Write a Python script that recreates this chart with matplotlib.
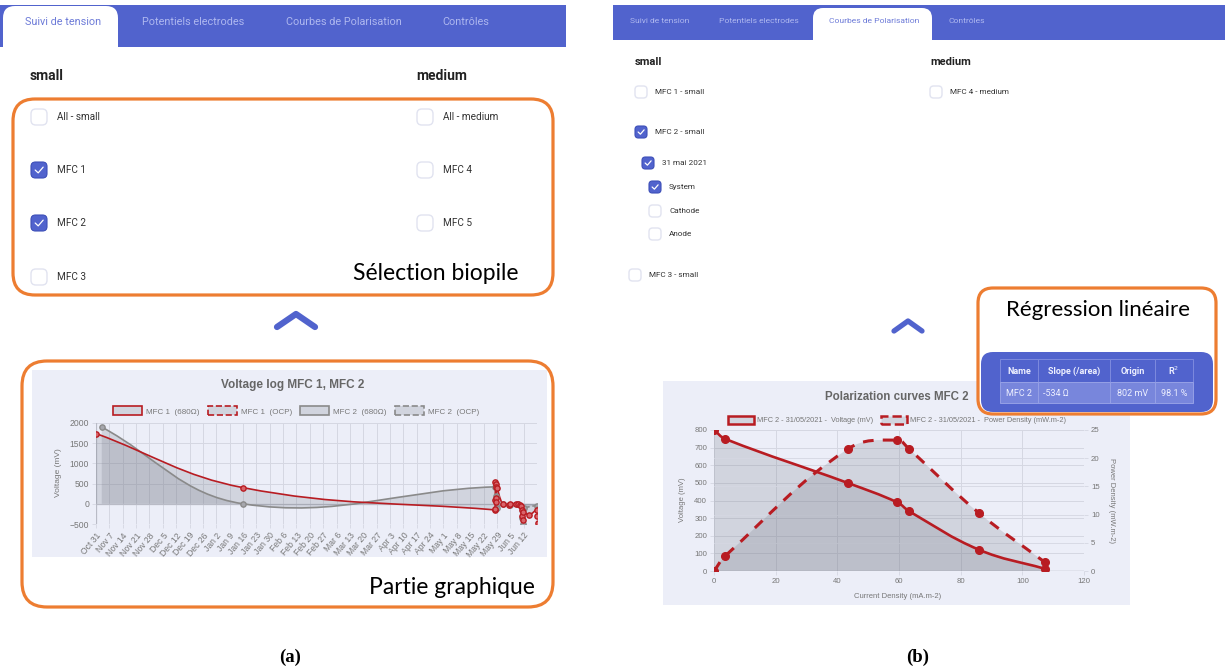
import numpy as np
import matplotlib.pyplot as plt
import matplotlib.dates as mdates
from matplotlib.patches import FancyBboxPatch, Rectangle, PathPatch, Patch
from matplotlib.path import Path

W, H = 1225, 670
BLUE = '#5163cd'
ORANGE = '#ed7d31'
RED = '#b81c22'
GRAY = '#8a8a8a'
CHART_BG = '#eceef8'
GRID = '#d5d7e2'
FILL = (0.45, 0.47, 0.52, 0.22)
UI_FONT = 'Roboto'
CHART_FONT = 'Liberation Sans'
NOTE_FONT = 'Lato'

# ---------------- data: (a) voltage log ----------------
week_ticks = ["2020-10-31", "2020-11-07", "2020-11-14", "2020-11-21", "2020-11-28",
              "2020-12-05", "2020-12-12", "2020-12-19", "2020-12-26", "2021-01-02",
              "2021-01-09", "2021-01-16", "2021-01-23", "2021-01-30", "2021-02-06",
              "2021-02-13", "2021-02-20", "2021-02-27", "2021-03-06", "2021-03-13",
              "2021-03-20", "2021-03-27", "2021-04-03", "2021-04-10", "2021-04-17",
              "2021-04-24", "2021-05-01", "2021-05-08", "2021-05-15", "2021-05-22",
              "2021-05-29", "2021-06-05", "2021-06-12"]
week_labels = ["Oct 31", "Nov 7", "Nov 14", "Nov 21", "Nov 28", "Dec 5", "Dec 12",
               "Dec 19", "Dec 26", "Jan 2", "Jan 9", "Jan 16", "Jan 23", "Jan 30",
               "Feb 6", "Feb 13", "Feb 20", "Feb 27", "Mar 6", "Mar 13", "Mar 20",
               "Mar 27", "Apr 3", "Apr 10", "Apr 17", "Apr 24", "May 1", "May 8",
               "May 15", "May 22", "May 29", "Jun 5", "Jun 12"]

mfc1_680_t = ["2020-10-31", "2021-01-16", "2021-05-27T18", "2021-05-28T00", "2021-05-28T03",
              "2021-05-28T06", "2021-05-28T09", "2021-05-28T12", "2021-05-28T15",
              "2021-05-28T18", "2021-05-29T00", "2021-06-01", "2021-06-04T12", "2021-06-05",
              "2021-06-08", "2021-06-09", "2021-06-10", "2021-06-10T12", "2021-06-11",
              "2021-06-11T06", "2021-06-11T12"]
mfc1_680_v = [1740, 400, -150, -120, 100, 550, 500, 420, 150, 50, 380, 0, -30, 0,
              0, 0, -20, -50, -150, -300, -400]
mfc1_ocp_t = ["2021-06-11T18", "2021-06-15", "2021-06-19", "2021-06-19T06", "2021-06-19T12"]
mfc1_ocp_v = [-200, -270, -150, -300, -480]
mfc2_680_t = ["2020-11-03", "2021-01-16", "2021-05-28", "2021-05-28T12", "2021-05-29",
              "2021-06-01", "2021-06-05", "2021-06-09", "2021-06-11", "2021-06-11T12"]
mfc2_680_v = [1900, 0, 420, 200, -100, 0, -20, 0, -350, -500]
mfc2_ocp_t = ["2021-06-12", "2021-06-19", "2021-06-19T12"]
mfc2_ocp_v = [-100, -50, -120]

# ---------------- data: (b) polarization ----------------
pol_current = [0, 3.7, 43.3, 59.5, 63.3, 85.9, 107.2]
pol_voltage = [800, 749, 500, 389, 339, 121, 13]
pol_power = [0, 2.7, 21.6, 23.2, 21.6, 10.3, 1.6]

table_cols = ["Name", "Slope (/area)", "Origin", "R$^2$"]
table_row = ["MFC 2", "-534 Ω", "802 mV", "98.1 %"]

left_tabs = ["Suivi de tension", "Potentiels electrodes", "Courbes de Polarisation", "Contrôles"]
left_small = [("All - small", False), ("MFC 1", True), ("MFC 2", True), ("MFC 3", False)]
left_medium = [("All - medium", False), ("MFC 4", False), ("MFC 5", False)]
right_small = [("MFC 1 - small", False, 0), ("MFC 2 - small", True, 0), ("31 mai 2021", True, 1),
               ("System", True, 2), ("Cathode", False, 2), ("Anode", False, 2),
               ("MFC 3 - small", False, -1)]
right_medium = [("MFC 4 - medium", False)]


def dnum(ts):
    return mdates.date2num(np.array(ts, dtype='datetime64[h]'))


def fig_rect(x0, y0, x1, y1):
    return [x0 / W, 1 - y1 / H, (x1 - x0) / W, (y1 - y0) / H]


def spline(xs, ys, xlim, ylim, pw, ph, t=0.4):
    # chart.js style cubic bezier through the points
    xs = np.asarray(xs, float)
    ys = np.asarray(ys, float)
    sx = pw / (xlim[1] - xlim[0])
    sy = ph / (ylim[1] - ylim[0])
    p = np.column_stack([(xs - xlim[0]) * sx, (ys - ylim[0]) * sy])
    n = len(p)
    cprev = np.zeros_like(p)
    cnext = np.zeros_like(p)
    for i in range(n):
        a, b, c = p[max(i - 1, 0)], p[i], p[min(i + 1, n - 1)]
        d01 = np.hypot(*(b - a))
        d12 = np.hypot(*(c - b))
        tot = d01 + d12
        s01 = d01 / tot if tot else 0
        s12 = d12 / tot if tot else 0
        cprev[i] = b - t * s01 * (c - a)
        cnext[i] = b + t * s12 * (c - a)
    back = lambda q: (q[0] / sx + xlim[0], q[1] / sy + ylim[0])
    verts = [back(p[0])]
    codes = [Path.MOVETO]
    for i in range(n - 1):
        verts += [back(cnext[i]), back(cprev[i + 1]), back(p[i + 1])]
        codes += [Path.CURVE4] * 3
    return verts, codes


def add_series(ax, xs, ys, xlim, ylim, pw, ph, color, ls='-', lw=1.2, ms=3.5, mfc=None,
               fill=True):
    verts, codes = spline(xs, ys, xlim, ylim, pw, ph)
    if fill:
        fv = verts + [(xs[-1], 0), (xs[0], 0), (xs[0], 0)]
        fc = codes + [Path.LINETO, Path.LINETO, Path.CLOSEPOLY]
        ax.add_patch(PathPatch(Path(fv, fc), facecolor=FILL, edgecolor='none', zorder=1))
    if lw:
        ax.add_patch(PathPatch(Path(verts, codes), fill=False, edgecolor=color, lw=lw,
                               linestyle=ls, zorder=3, capstyle='butt'))
    if ms:
        ax.plot(xs, ys, 'o', color=color, ms=ms, mec=color, mfc=mfc or color, mew=1,
                zorder=4)


fig = plt.figure(figsize=(12.25, 6.70), dpi=100)
bg = fig.add_axes([0, 0, 1, 1])
bg.set_xlim(0, W)
bg.set_ylim(H, 0)
bg.axis('off')


def checkbox(x, y, s, checked):
    if checked:
        bg.add_patch(FancyBboxPatch((x - s / 2, y - s / 2), s, s,
                                    boxstyle=f'round,pad=0,rounding_size={s * 0.28}',
                                    fc=BLUE, ec='#3d4fb8', lw=0.8))
        bg.plot([x - 0.24 * s, x - 0.05 * s, x + 0.26 * s],
                [y + 0.0 * s, y + 0.18 * s, y - 0.18 * s], color='white', lw=0.9,
                solid_capstyle='round')
    else:
        bg.add_patch(FancyBboxPatch((x - s / 2, y - s / 2), s, s,
                                    boxstyle=f'round,pad=0,rounding_size={s * 0.3}',
                                    fc='white', ec='#e1e3f0', lw=1.0))


# ---------------- left UI ----------------
bg.add_patch(Rectangle((0, 5), 566, 42, fc=BLUE, ec='none'))
bg.add_patch(FancyBboxPatch((3, 6), 115, 60, boxstyle='round,pad=0,rounding_size=12',
                            fc='white', ec='none'))
for name, cx in zip(left_tabs, [63, 193, 344, 466]):
    active = name == "Suivi de tension"
    bg.text(cx, 22, name, ha='center', va='center', fontsize=7.8, family=UI_FONT,
            color='#6d7bd8' if active else '#aeb7ef')

bg.text(30, 76, "small", fontsize=10, fontweight='bold', family=UI_FONT, color='#222',
        va='center')
bg.text(416, 76, "medium", fontsize=10, fontweight='bold', family=UI_FONT, color='#222',
        va='center')
for (lab, chk), y in zip(left_small, [117, 170, 223, 277]):
    checkbox(39, y, 16, chk)
    bg.text(57, y, lab, fontsize=7.2, family=UI_FONT, color='#333', va='center')
for (lab, chk), y in zip(left_medium, [117, 170, 223]):
    checkbox(425, y, 16, chk)
    bg.text(443, y, lab, fontsize=7.2, family=UI_FONT, color='#333', va='center')

bg.add_patch(FancyBboxPatch((13, 99), 540, 196, boxstyle='round,pad=0,rounding_size=22',
                            fill=False, ec=ORANGE, lw=2.3))
bg.text(436, 273, "Sélection biopile", ha='center', va='center', fontsize=16.5,
        family=NOTE_FONT, color='black')
bg.plot([277, 296, 315], [327, 314, 327], color=BLUE, lw=4.5, solid_capstyle='round',
        solid_joinstyle='round')

bg.add_patch(Rectangle((32, 370), 515, 187, fc=CHART_BG, ec='none'))
bg.add_patch(FancyBboxPatch((22, 361), 531, 246, boxstyle='round,pad=0,rounding_size=25',
                            fill=False, ec=ORANGE, lw=2.3))
bg.text(293, 385, "Voltage log MFC 1, MFC 2", ha='center', va='center', fontsize=8.5,
        fontweight='bold', family=CHART_FONT, color='#666')
bg.text(452, 587, "Partie graphique", ha='center', va='center', fontsize=16.5,
        family=NOTE_FONT, color='black')
bg.text(58, 473, "Voltage (mV)", rotation=90, ha='center', va='center', fontsize=6,
        family=CHART_FONT, color='#777')

# ---------------- right UI ----------------
bg.add_patch(Rectangle((613, 5), 612, 35, fc=BLUE, ec='none'))
bg.add_patch(FancyBboxPatch((813, 8), 119, 50, boxstyle='round,pad=0,rounding_size=10',
                            fc='white', ec='none'))
for name, cx in zip(left_tabs, [660, 759, 874, 967]):
    active = name == "Courbes de Polarisation"
    bg.text(cx, 21, name, ha='center', va='center', fontsize=6.1, family=UI_FONT,
            color='#6d7bd8' if active else '#aeb7ef')
bg.text(635, 62, "small", fontsize=8, fontweight='bold', family=UI_FONT, color='#222',
        va='center')
bg.text(930, 62, "medium", fontsize=8, fontweight='bold', family=UI_FONT, color='#222',
        va='center')
indent_x = {-1: 635, 0: 641, 1: 648, 2: 655}
for (lab, chk, lvl), y in zip(right_small, [92, 132, 163, 187, 211, 234, 275]):
    checkbox(indent_x[lvl], y, 12, chk)
    bg.text(indent_x[lvl] + 14, y, lab, fontsize=5.9, family=UI_FONT, color='#333',
            va='center')
for (lab, chk), y in zip(right_medium, [92]):
    checkbox(936, y, 12, chk)
    bg.text(950, y, lab, fontsize=5.9, family=UI_FONT, color='#333', va='center')
bg.plot([894, 908, 922], [331, 321, 331], color=BLUE, lw=3.8, solid_capstyle='round',
        solid_joinstyle='round')

bg.add_patch(Rectangle((663, 381), 467, 224, fc=CHART_BG, ec='none'))
bg.text(897, 397, "Polarization curves MFC 2", ha='center', va='center', fontsize=8.3,
        fontweight='bold', family=CHART_FONT, color='#666')
bg.text(683, 500, "Voltage (mV)", rotation=90, ha='center', va='center', fontsize=5.5,
        family=CHART_FONT, color='#777')
bg.text(1112, 500, "Power Density (mW.m-2)", rotation=270, ha='center', va='center',
        fontsize=5.5, family=CHART_FONT, color='#777')
bg.text(898, 596, "Current Density (mA.m-2)", ha='center', va='center', fontsize=5.5,
        family=CHART_FONT, color='#777')

# regression box
bg.add_patch(FancyBboxPatch((978, 288), 238, 126, boxstyle='round,pad=0,rounding_size=15',
                            fc='white', ec=ORANGE, lw=2.3, zorder=2))
bg.text(1098, 310, "Régression linéaire", ha='center', va='center', fontsize=16,
        family=NOTE_FONT, color='black', zorder=3)
bg.add_patch(FancyBboxPatch((981, 352), 232, 60, boxstyle='round,pad=0,rounding_size=12',
                            fc=BLUE, ec='none', zorder=3))
col_x = [1000, 1038, 1110, 1155, 1193]
for i in range(4):
    bg.add_patch(Rectangle((col_x[i], 359), col_x[i + 1] - col_x[i], 23, fc=BLUE,
                           ec='#7d8ade', lw=0.7, zorder=4))
    bg.add_patch(Rectangle((col_x[i], 382), col_x[i + 1] - col_x[i], 21, fc='#7886dc',
                           ec='#95a0e6', lw=0.7, zorder=4))
    hx = (col_x[i] + col_x[i + 1]) / 2
    bx = col_x[i] + 5 if i == 1 else hx
    bg.text(hx, 371, table_cols[i], ha='center', va='center', fontsize=6.5,
            fontweight='bold', family=UI_FONT, color='#eef0ff', zorder=5)
    bg.text(bx, 393, table_row[i], ha='left' if i == 1 else 'center', va='center',
            fontsize=6.5, family=UI_FONT, color='#eef0ff', zorder=5)

bg.text(290, 657, "(a)", ha='center', va='center', fontsize=13.5, fontweight='bold',
        family='Liberation Serif')
bg.text(918, 657, "(b)", ha='center', va='center', fontsize=13.5, fontweight='bold',
        family='Liberation Serif')

# ---------------- chart (a) ----------------
ax1 = fig.add_axes(fig_rect(96, 423, 537, 524))
ax1.set_facecolor(CHART_BG)
xl1 = (dnum(["2020-10-31"])[0], dnum(["2021-06-19"])[0])
yl1 = (-500, 2000)
ax1.set_xlim(xl1)
ax1.set_ylim(yl1)
for ts, vs, col, ls, mf in [(mfc2_680_t, mfc2_680_v, GRAY, '-', '#a6a7ad'),
                            (mfc2_ocp_t, mfc2_ocp_v, GRAY, '--', '#a6a7ad'),
                            (mfc1_680_t, mfc1_680_v, RED, '-', '#d9646a'),
                            (mfc1_ocp_t, mfc1_ocp_v, RED, '--', '#d9646a')]:
    add_series(ax1, dnum(ts), vs, xl1, yl1, 441, 101, col, ls=ls, lw=1.2, ms=3.8, mfc=mf)
ax1.set_yticks([-500, 0, 500, 1000, 1500, 2000])
ax1.set_xticks(dnum(week_ticks))
ax1.set_xticklabels(week_labels, rotation=50, ha='right', rotation_mode='anchor')
ax1.grid(True, color=GRID, lw=0.7)
ax1.set_axisbelow(True)
ax1.axhline(0, color='#b9bbc6', lw=0.9, zorder=0.6)
ax1.axvline(xl1[0], color='#b9bbc6', lw=0.9, zorder=0.6)
ax1.tick_params(labelsize=6.2, colors='#777', length=3, width=0.6, pad=2)
ax1.tick_params(axis='both', color=GRID)
for lab in ax1.get_xticklabels() + ax1.get_yticklabels():
    lab.set_family(CHART_FONT)
for s in ax1.spines.values():
    s.set_visible(False)
leg_a = [Patch(fc=FILL, ec=RED, lw=1.2, label='MFC 1  (680Ω)'),
         Patch(fc=FILL, ec=RED, lw=1.2, ls='--', label='MFC 1  (OCP)'),
         Patch(fc=FILL, ec=GRAY, lw=1.2, label='MFC 2  (680Ω)'),
         Patch(fc=FILL, ec=GRAY, lw=1.2, ls='--', label='MFC 2  (OCP)')]
lg = ax1.legend(handles=leg_a, ncol=4, loc='center', bbox_to_anchor=(296, 411),
                bbox_transform=bg.transData, frameon=False, handlelength=3.6,
                handleheight=1.3, columnspacing=1.0, handletextpad=0.5,
                prop={'family': CHART_FONT, 'size': 5.8})
for t in lg.get_texts():
    t.set_color('#777')

# ---------------- chart (b) ----------------
ax2 = fig.add_axes(fig_rect(714, 430, 1084, 571))
ax2.set_facecolor(CHART_BG)
ax2r = ax2.twinx()
xl2, yl2, yl2r = (0, 120), (0, 800), (0, 25)
ax2.set_xlim(xl2)
ax2.set_ylim(yl2)
ax2r.set_ylim(yl2r)
add_series(ax2, pol_current, pol_voltage, xl2, yl2, 370, 141, RED, lw=0, ms=0)
add_series(ax2r, pol_current, pol_power, xl2, yl2r, 370, 141, RED, ls=(0, (3.5, 3)),
           lw=2.2, ms=5.5)
# voltage line on top of power fill
vv, vc = spline(pol_current, pol_voltage, xl2, yl2, 370, 141)
ax2r.add_patch(PathPatch(Path(vv, vc), fill=False, edgecolor=RED, lw=1.9, zorder=3,
                         transform=ax2.transData))
ax2r.plot(pol_current, pol_voltage, 'o', color=RED, ms=5.5, zorder=4,
          transform=ax2.transData)
ax2.set_xticks(range(0, 121, 20))
ax2.set_yticks(range(0, 801, 100))
ax2r.set_yticks(range(0, 26, 5))
ax2.grid(True, color=GRID, lw=0.7)
ax2.set_axisbelow(True)
ax2r.grid(True, axis='y', color=GRID, lw=0.6)
ax2r.set_axisbelow(True)
ax2.axhline(0, color='#b0b2bd', lw=1.0, zorder=0.6)
for a in (ax2, ax2r):
    a.tick_params(labelsize=5.6, colors='#777', length=3, width=0.6, pad=2)
    a.tick_params(axis='both', color=GRID)
    for lab in a.get_xticklabels() + a.get_yticklabels():
        lab.set_family(CHART_FONT)
    for s in a.spines.values():
        s.set_visible(False)
leg_b = [Patch(fc=FILL, ec=RED, lw=1.8, label='MFC 2 - 31/05/2021 -  Voltage (mV)'),
         Patch(fc=FILL, ec=RED, lw=1.8, ls='--',
               label='MFC 2 - 31/05/2021 -  Power Density (mW.m-2)')]
lg2 = ax2r.legend(handles=leg_b, ncol=2, loc='center', bbox_to_anchor=(897, 420),
                  bbox_transform=bg.transData, frameon=False, handlelength=3.6,
                  handleheight=1.3, columnspacing=1.0, handletextpad=0.4,
                  prop={'family': CHART_FONT, 'size': 5.3})
for t in lg2.get_texts():
    t.set_color('#777')

fig.savefig('out.png', dpi=100)
